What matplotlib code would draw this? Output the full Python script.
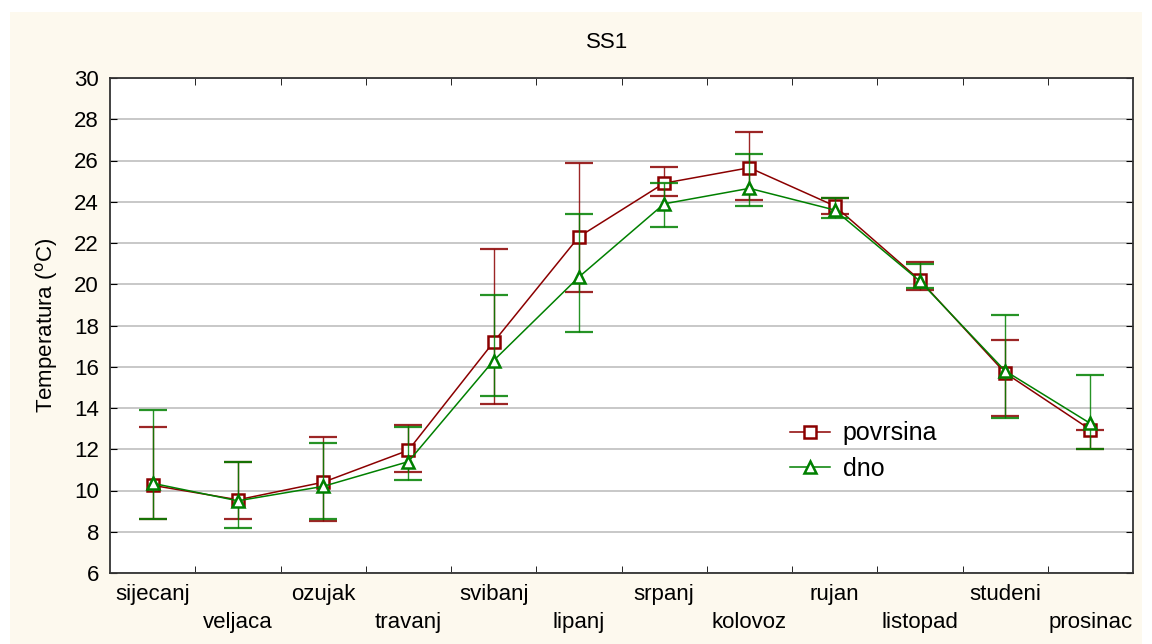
# SS1 monthly temperature, surface vs bottom, with error bars

import matplotlib
matplotlib.use("Agg")
import matplotlib.pyplot as plt
from matplotlib.patches import Rectangle
from matplotlib.ticker import MultipleLocator, FixedLocator

months = ["sijecanj", "veljaca", "ozujak", "travanj", "svibanj", "lipanj",
          "srpanj", "kolovoz", "rujan", "listopad", "studeni", "prosinac"]

pov_mean = [10.25, 9.55, 10.4, 11.95, 17.2, 22.3, 24.9, 25.65, 23.8, 20.2, 15.7, 12.95]
pov_hi = [13.1, 11.4, 12.6, 13.2, 21.7, 25.9, 25.7, 27.4, 24.2, 21.1, 17.3, 12.95]
pov_lo = [8.6, 8.6, 8.5, 10.9, 14.2, 19.6, 24.3, 24.1, 23.4, 19.7, 13.6, 12.0]

dno_mean = [10.35, 9.5, 10.2, 11.4, 16.3, 20.35, 23.9, 24.65, 23.6, 20.15, 15.8, 13.25]
dno_hi = [13.9, 11.4, 12.3, 13.1, 19.5, 23.4, 24.9, 26.3, 24.2, 21.0, 18.5, 15.6]
dno_lo = [8.6, 8.2, 8.6, 10.5, 14.6, 17.7, 22.8, 23.8, 23.2, 19.8, 13.5, 12.0]

RED = "#8b0000"
GREEN = "#008000"
CREAM = "#fdf9ee"

plt.rcParams["font.family"] = ["Liberation Sans", "DejaVu Sans"]
plt.rcParams["font.size"] = 16

fig = plt.figure(figsize=(11.52, 6.44), dpi=100)
fig.patch.set_facecolor("white")
fig.patches.append(Rectangle((10 / 1152, 0), 1132 / 1152, 632 / 644,
                             transform=fig.transFigure, facecolor=CREAM,
                             edgecolor="none", zorder=-10))

ax = fig.add_axes([110 / 1152, 71 / 644, 1023 / 1152, 495 / 644])
ax.set_facecolor("white")

x = list(range(len(months)))


def draw(mean, lo, hi, color, marker, label, z):
    err = [[m - l for m, l in zip(mean, lo)], [h - m for m, h in zip(mean, hi)]]
    ax.errorbar(x, mean, yerr=err, fmt="none", ecolor=color, elinewidth=1.0,
                capsize=10, capthick=1.6, alpha=0.85, zorder=z)
    ax.plot(x, mean, color=color, lw=1.1, marker=marker, markersize=9,
            markerfacecolor="white", markeredgecolor=color, markeredgewidth=1.8,
            label=label, zorder=z + 1)


draw(pov_mean, pov_lo, pov_hi, RED, "s", "povrsina", 3)
draw(dno_mean, dno_lo, dno_hi, GREEN, "^", "dno", 5)

ax.set_xlim(-0.5, 11.5)
ax.set_ylim(6, 30)
ax.yaxis.set_major_locator(MultipleLocator(2))
ax.grid(axis="y", color="#c4c4c4", lw=1.3, zorder=0)

ax.set_xticks(x)
ax.set_xticklabels(months)
ax.xaxis.set_minor_locator(FixedLocator([i + 0.5 for i in range(11)]))
ax.tick_params(axis="x", which="major", length=0, pad=8)
ax.tick_params(axis="x", which="minor", direction="in", length=5, top=True)
ax.tick_params(axis="y", direction="in", length=5, right=True, pad=8)
for i, t in enumerate(ax.xaxis.get_major_ticks()):
    if i % 2 == 1:
        t.set_pad(28)

for s in ax.spines.values():
    s.set_color("#333333")
    s.set_linewidth(1.3)

ax.set_ylabel(r"Temperatura ($^{\rm o}$C)")
ax.yaxis.set_label_coords(-0.049, 0.5)

fig.text(607 / 1152, 1 - 42 / 644, "SS1", ha="center", va="center", fontsize=16)

ax.legend(loc="upper left", bbox_to_anchor=(0.643, 0.352), frameon=False,
          handlelength=1.6, handletextpad=0.5, labelspacing=0.45,
          fontsize=18)

fig.savefig("out.png", dpi=100, facecolor=fig.get_facecolor())
